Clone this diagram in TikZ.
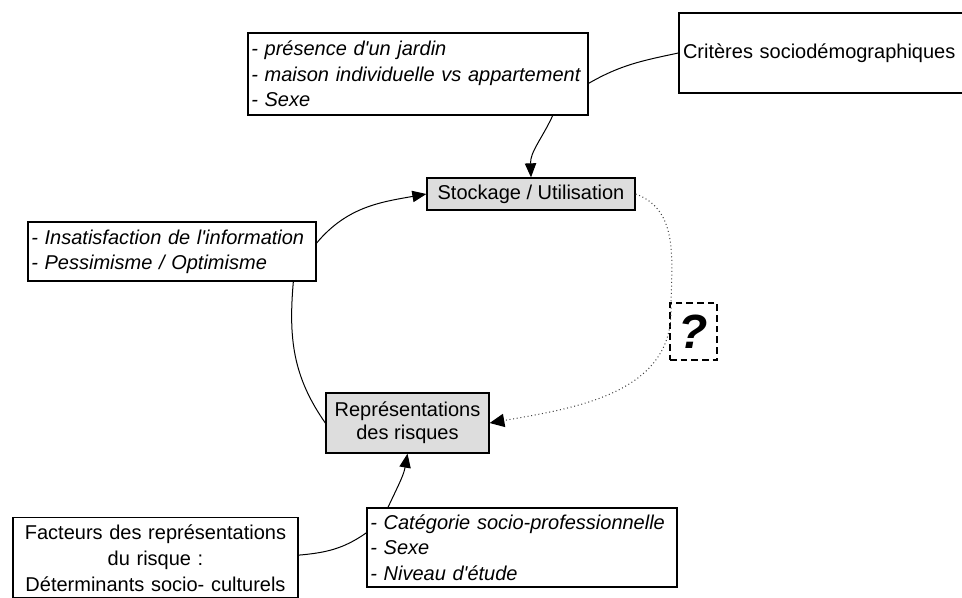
\documentclass[tikz,border=0pt]{standalone}
\usepackage{fontspec}
\setmainfont{Liberation Sans}
\usetikzlibrary{arrows.meta,positioning}
\definecolor{boxgrey}{HTML}{DDDDDD}
\newcommand{\apos}{\textquotesingle}
\tikzset{
    % Boxes listing the factors
    listbox/.style={
        draw=black,
        line width=1pt,
        fill=white,
        inner xsep=2.5pt,
        inner ysep=0pt,
        align=left,
        font=\fontsize{15}{19}\selectfont\itshape
    },
    % Plain text boxes
    plainbox/.style={
        draw=black,
        line width=1pt,
        fill=white,
        inner xsep=3pt,
        inner ysep=0pt,
        font=\fontsize{15}{19.5}\selectfont
    },
    % Grey key boxes
    keybox/.style={
        draw=black,
        line width=1pt,
        fill=boxgrey,
        inner sep=0pt,
        align=center,
        font=\fontsize{15}{17.5}\selectfont
    },
    % Dashed question box
    querybox/.style={
        draw=black,
        line width=1.5pt,
        dash pattern=on 5pt off 3pt,
        inner sep=0pt,
        minimum width=35.25pt,
        minimum height=42.75pt,
        font=\fontsize{36}{38}\selectfont\bfseries\itshape
    },
    % Connectors
    flow/.style={
        -{Triangle[length=10.5pt,width=8.5pt]},
        line width=0.75pt
    },
    link/.style={
        line width=0.75pt
    },
    query/.style={
        -{Triangle[length=11pt,width=10pt,color=black]},
        draw=black!75,
        line width=0.75pt,
        dotted
    }
}
\begin{document}
\begin{tikzpicture}[x=0.75pt,y=-0.75pt]
\path[use as bounding box,clip] (0,0) rectangle (962,597);

% === TOP ===
\node[listbox, text width=250pt, minimum height=61.5pt] (jardin) at (418,74) {
    - présence d\apos un jardin\\
    - maison individuelle vs appartement\\
    - Sexe
};
\node[plainbox, text width=209.25pt, minimum height=60pt] (criteres) at (822.5,53) {Critères sociodémographiques};

\node[keybox, minimum width=156pt, minimum height=24pt] (stockage) at (531,194) {Stockage / Utilisation};

% === LEFT ===
\node[listbox, text width=211pt, minimum height=44.25pt] (insat) at (172,251.5) {
    - Insatisfaction de l\apos information\\
    - Pessimisme / Optimisme
};

\node[keybox, minimum width=122.25pt, minimum height=45pt] (repr) at (407.5,423) {Représentations\\des risques};

\node[querybox] (question) at (693.5,331.5) {?};

% === BOTTOM ===
\node[plainbox, align=center, text width=207.75pt, inner ysep=5pt, anchor=north] (facteurs) at (155.5,517) {
    Facteurs des représentations\\
    du risque :\\
    Déterminants socio- culturels
};
\node[listbox, text width=227.5pt, minimum height=59.25pt] (categorie) at (522,547.5) {
    - Catégorie socio-professionnelle\\
    - Sexe\\
    - Niveau d\apos étude
};

% === CONNECTORS ===
\draw[link] ([yshift=-7pt]jardin.east) to[out=30,in=192] (criteres.west);
\draw[flow] ([xshift=101pt]jardin.south) to[out=-115,in=92] (stockage.north);
\draw[flow] ([yshift=6.4pt]insat.east) to[out=50,in=190] (stockage.west);
\draw[link] ([xshift=91pt]insat.south) to[out=-95,in=125] (repr.west);
\draw[query] (stockage.east) to[out=-20,in=90] ([xshift=1.5pt,yshift=-7pt]question.north west)
    to[out=-90,in=10] (repr.east);
\draw[link] ([yshift=2pt]facteurs.east) to[out=5,in=-145] ([yshift=11pt]categorie.west);
\draw[flow] ([xshift=-100.5pt]categorie.north) to[out=65,in=-100] (repr.south);

\end{tikzpicture}
\end{document}
